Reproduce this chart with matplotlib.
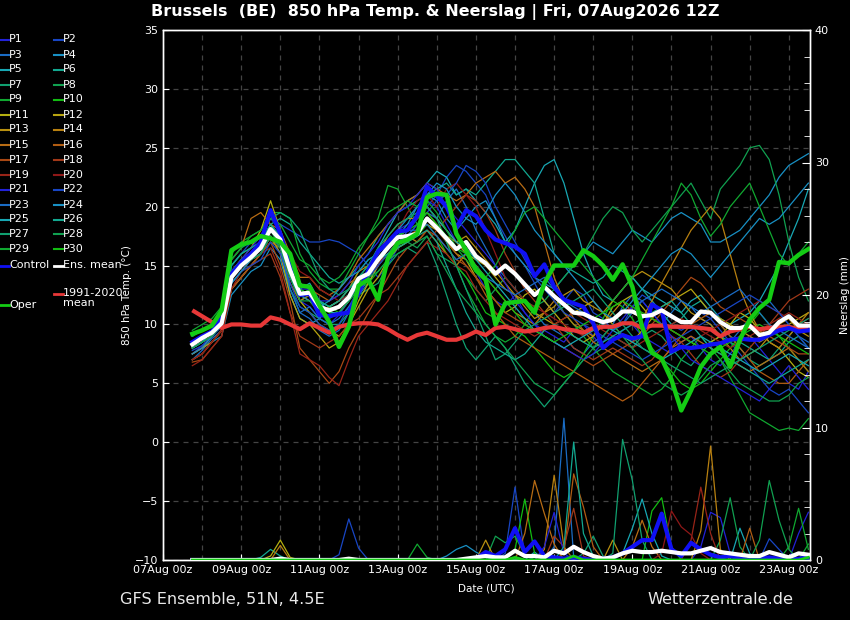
import datetime as dt
import matplotlib
matplotlib.use("Agg")
import matplotlib.pyplot as plt
import matplotlib.dates as mdates
from matplotlib.lines import Line2D
from matplotlib.ticker import MultipleLocator

# ---------------- data ----------------
RUN_START = dt.datetime(2026, 8, 7, 18)
N_STEPS = 64
STEP_HOURS = 6

TITLE = "Brussels  (BE)  850 hPa Temp. & Neerslag | Fri, 07Aug2026 12Z"
FOOT_LEFT = "GFS Ensemble, 51N, 4.5E"
FOOT_RIGHT = "Wetterzentrale.de"
XTICK_DATES = [dt.datetime(2026, 8, d) for d in range(7, 24, 2)]

member_colors = ["#2222d8", "#1846c4", "#1a6cc4", "#1890c4", "#18a8b4",
                 "#12a890", "#10a070", "#10a050", "#10a830", "#12bb12",
                 "#b4b010", "#b8a410", "#b89010", "#b88010", "#b86c14",
                 "#b05c12", "#a84814", "#a03818", "#982418", "#8e1818"]

temp_members = [
    [7.5, 8.2, 9.0, 10.5, 14.5, 15.5, 16.0, 17.0, 18.5, 17.5, 14.0, 12.0, 11.5, 10.5, 10.0, 10.8, 12.0, 13.5, 14.5, 15.5, 17.0, 18.0, 18.5, 19.0, 20.5, 20.0, 18.5, 17.0, 16.0, 14.5, 13.0, 12.0, 11.5, 12.5, 11.0, 10.0, 9.5, 9.0, 8.5, 9.5, 10.0, 9.0, 8.0, 8.5, 9.5, 10.0, 9.0, 8.5, 8.0, 7.5, 8.5, 9.0, 8.0, 7.0, 6.5, 7.5, 8.5, 9.0, 8.0, 7.0, 6.0, 5.0, 4.5, 6.0],
    [8.0, 8.5, 9.5, 11.0, 15.0, 16.0, 17.0, 17.5, 19.0, 18.5, 18.0, 17.5, 17.0, 17.0, 17.2, 17.0, 16.5, 16.0, 15.0, 14.0, 15.0, 16.5, 18.0, 19.5, 20.0, 21.0, 22.5, 23.5, 23.0, 22.0, 21.0, 19.0, 17.5, 16.0, 15.0, 13.5, 12.0, 11.0, 12.0, 13.0, 12.5, 11.0, 10.5, 9.5, 10.0, 11.5, 12.5, 12.0, 11.0, 10.0, 9.5, 10.0, 11.0, 10.5, 9.5, 8.5, 7.5, 6.5, 5.5, 4.5, 4.0, 4.5, 3.5, 2.5],
    [7.0, 7.8, 8.8, 9.5, 13.0, 14.0, 15.0, 16.0, 17.5, 16.0, 13.0, 11.0, 10.5, 9.5, 9.0, 9.5, 11.0, 12.5, 13.5, 15.0, 16.0, 17.0, 17.5, 18.5, 19.5, 19.0, 20.5, 21.5, 20.0, 18.0, 16.5, 15.0, 14.0, 13.0, 12.0, 11.0, 10.0, 9.5, 9.0, 8.0, 7.5, 8.5, 9.0, 10.0, 11.5, 12.5, 12.0, 11.0, 10.0, 11.0, 12.0, 11.5, 10.5, 10.0, 9.0, 8.5, 9.5, 10.5, 11.5, 12.0, 11.0, 10.0, 9.0, 8.5],
    [7.5, 8.0, 8.5, 9.0, 12.5, 13.5, 14.5, 15.0, 16.5, 15.5, 12.5, 10.5, 10.0, 10.5, 11.5, 12.0, 12.5, 13.0, 14.0, 15.0, 16.5, 17.5, 18.5, 20.0, 21.0, 20.5, 19.0, 18.0, 19.0, 20.0, 20.5, 19.0, 17.0, 16.0, 15.0, 14.0, 13.5, 13.0, 14.0, 15.0, 16.0, 17.0, 16.5, 16.0, 17.0, 18.0, 17.5, 17.0, 18.0, 19.0, 19.5, 19.0, 18.5, 17.0, 17.0, 17.5, 18.0, 19.0, 20.0, 21.0, 22.5, 23.5, 24.0, 24.5],
    [8.5, 9.0, 9.5, 10.0, 14.0, 15.0, 15.5, 16.0, 18.0, 17.0, 15.0, 13.0, 13.5, 12.0, 11.5, 12.0, 12.5, 14.0, 15.0, 16.5, 18.0, 19.5, 20.5, 21.0, 22.0, 23.0, 22.5, 21.0, 21.5, 20.5, 19.5, 18.5, 17.0, 18.0, 20.0, 22.0, 23.5, 24.0, 22.0, 19.0, 16.0, 14.0, 12.5, 12.0, 13.0, 14.0, 13.0, 12.5, 12.0, 11.5, 11.0, 12.0, 12.5, 11.5, 10.5, 10.0, 10.5, 11.0, 12.0, 13.5, 15.0, 17.0, 19.0, 21.5],
    [9.0, 9.5, 10.0, 10.5, 15.0, 16.0, 16.5, 17.0, 18.5, 19.0, 18.5, 17.0, 16.0, 15.0, 14.0, 13.5, 14.0, 15.0, 16.0, 17.5, 18.5, 19.5, 20.0, 20.5, 21.0, 21.5, 22.0, 21.0, 21.5, 21.0, 22.0, 23.0, 24.0, 24.0, 23.0, 22.0, 19.0, 16.0, 15.0, 14.5, 14.0, 13.5, 14.0, 15.0, 14.5, 14.0, 13.0, 12.0, 11.0, 10.0, 10.5, 11.5, 12.0, 11.0, 10.0, 9.0, 8.5, 8.0, 7.5, 7.0, 7.5, 8.5, 9.0, 8.0],
    [7.0, 7.5, 8.5, 9.5, 13.5, 14.5, 15.5, 16.5, 17.5, 16.0, 13.0, 11.5, 11.0, 10.5, 10.0, 10.0, 11.0, 12.5, 13.0, 13.5, 15.0, 16.0, 16.5, 16.0, 17.0, 15.0, 12.5, 10.0, 8.0, 7.0, 8.0, 9.0, 8.0, 6.5, 5.0, 4.0, 3.0, 4.0, 5.0, 6.0, 7.0, 7.5, 8.0, 9.0, 8.5, 8.0, 9.0, 9.5, 9.0, 8.0, 7.0, 6.5, 7.5, 8.5, 9.0, 8.5, 8.0, 7.0, 6.5, 7.0, 8.0, 9.0, 10.0, 9.5],
    [8.5, 9.0, 9.5, 10.0, 14.5, 15.0, 16.0, 16.5, 18.0, 16.5, 14.0, 12.0, 12.5, 11.0, 11.5, 12.0, 13.0, 14.5, 15.5, 16.0, 17.0, 17.5, 17.0, 16.5, 17.5, 16.0, 15.5, 15.0, 14.0, 13.0, 12.0, 13.0, 14.0, 13.0, 12.0, 11.5, 12.0, 13.0, 14.0, 15.0, 16.0, 17.5, 19.0, 20.0, 19.5, 18.0, 17.0, 18.0, 19.0, 20.0, 21.0, 22.0, 20.5, 19.0, 21.5, 22.5, 23.5, 25.0, 25.2, 24.0, 21.0, 17.0, 14.0, 12.0],
    [9.5, 10.0, 10.5, 11.5, 16.0, 17.0, 17.5, 18.0, 19.5, 19.5, 19.0, 16.0, 14.5, 13.5, 13.0, 13.0, 14.5, 16.0, 17.5, 19.0, 21.8, 21.5, 20.0, 18.5, 19.0, 18.5, 17.0, 15.0, 13.0, 11.5, 10.0, 9.0, 8.5, 9.0, 10.0, 11.5, 13.0, 12.5, 11.0, 10.0, 9.0, 8.0, 7.0, 6.0, 5.5, 5.0, 4.5, 4.0, 4.5, 5.5, 7.0, 8.0, 9.0, 8.0, 7.0, 5.5, 4.0, 2.5, 2.0, 1.5, 1.0, 1.2, 1.0, 2.0],
    [8.0, 8.5, 9.0, 10.0, 14.0, 15.0, 16.0, 17.0, 18.5, 17.0, 14.5, 12.5, 13.0, 12.0, 11.5, 11.0, 12.0, 13.0, 13.5, 14.5, 15.5, 16.5, 17.0, 17.5, 18.5, 17.5, 16.0, 15.0, 14.0, 12.5, 11.0, 10.5, 10.0, 9.5, 9.0, 8.0, 7.0, 6.0, 5.5, 6.0, 7.5, 9.0, 10.5, 12.0, 11.5, 10.5, 9.0, 8.0, 7.0, 6.0, 5.0, 4.5, 5.0, 6.0, 7.0, 8.0, 9.0, 10.0, 11.0, 10.0, 9.0, 8.0, 7.0, 6.0],
    [8.0, 8.5, 9.0, 10.0, 14.5, 15.5, 16.5, 18.0, 20.5, 18.0, 15.0, 12.0, 11.0, 10.0, 9.5, 9.0, 10.0, 12.0, 13.5, 15.0, 16.5, 17.5, 18.0, 19.0, 19.5, 18.5, 17.0, 16.0, 15.5, 14.0, 13.0, 12.0, 11.0, 11.5, 12.5, 13.0, 12.0, 11.0, 10.0, 9.0, 8.5, 9.0, 10.0, 11.5, 12.0, 12.5, 11.5, 10.5, 10.0, 9.5, 9.0, 8.5, 8.0, 8.5, 9.0, 10.0, 11.0, 10.5, 9.5, 8.5, 8.0, 7.0, 6.0, 5.5],
    [7.5, 8.0, 8.5, 9.5, 13.0, 14.0, 15.0, 16.0, 17.5, 16.0, 12.5, 10.5, 10.0, 9.0, 8.0, 8.5, 10.0, 11.5, 13.0, 14.0, 15.5, 16.5, 17.0, 18.0, 18.5, 18.0, 17.5, 17.0, 16.0, 15.5, 15.0, 14.0, 13.0, 12.5, 12.0, 11.0, 10.5, 10.0, 10.5, 11.0, 11.5, 12.0, 11.0, 10.0, 9.0, 8.5, 9.5, 10.5, 11.5, 12.0, 12.5, 13.0, 12.0, 11.0, 10.5, 10.0, 9.5, 9.0, 8.5, 9.0, 9.5, 10.0, 10.5, 11.0],
    [8.0, 8.5, 9.0, 10.0, 14.0, 15.0, 15.5, 16.5, 18.0, 17.0, 14.0, 12.5, 12.0, 11.0, 11.5, 12.0, 13.0, 14.5, 15.0, 16.0, 17.5, 18.5, 19.0, 19.0, 20.0, 19.0, 18.0, 17.0, 17.5, 16.5, 15.5, 14.5, 13.5, 12.5, 11.5, 10.5, 11.0, 11.5, 12.5, 13.0, 12.0, 11.5, 11.0, 12.0, 13.0, 14.0, 14.5, 14.0, 13.5, 13.0, 12.0, 11.0, 10.5, 10.0, 9.0, 8.0, 7.0, 7.5, 8.0, 9.0, 10.0, 10.5, 9.5, 9.0],
    [7.0, 7.5, 8.5, 9.5, 13.0, 14.0, 15.0, 16.0, 17.0, 16.5, 13.5, 12.0, 12.5, 11.5, 11.0, 11.0, 12.0, 13.5, 14.0, 15.5, 16.5, 17.0, 17.5, 17.0, 18.0, 17.0, 16.0, 15.0, 16.0, 15.0, 14.0, 13.0, 12.0, 11.0, 10.5, 10.0, 11.0, 12.0, 11.0, 10.0, 9.5, 9.0, 10.0, 11.0, 12.0, 11.0, 10.5, 12.0, 13.5, 15.0, 16.5, 18.0, 19.0, 20.0, 19.0, 16.0, 13.0, 11.0, 9.5, 8.5, 8.0, 9.0, 10.0, 11.0],
    [8.5, 9.0, 9.5, 10.5, 15.5, 16.5, 19.0, 19.5, 18.5, 18.0, 16.0, 14.0, 14.0, 13.0, 12.5, 13.0, 14.0, 15.5, 16.5, 17.5, 18.5, 19.5, 20.5, 21.0, 22.0, 21.5, 21.0, 20.5, 21.0, 22.0, 22.5, 23.0, 22.0, 22.5, 21.5, 20.0, 17.0, 14.0, 12.0, 10.5, 9.5, 8.5, 8.0, 7.5, 7.0, 6.5, 6.0, 6.5, 7.0, 8.0, 8.5, 9.0, 8.5, 8.0, 7.5, 7.0, 6.5, 6.0, 6.5, 7.0, 7.5, 8.0, 7.0, 6.0],
    [7.5, 8.0, 9.0, 10.0, 14.0, 15.0, 15.5, 16.0, 17.5, 16.5, 14.5, 13.5, 13.0, 12.5, 12.0, 12.5, 13.5, 14.0, 14.5, 15.0, 16.0, 17.0, 17.5, 18.0, 19.0, 18.0, 17.0, 16.0, 15.0, 14.0, 12.5, 11.0, 10.0, 9.0, 8.5, 8.0, 7.5, 7.0, 6.5, 6.0, 5.5, 5.0, 4.5, 4.0, 3.5, 4.0, 5.0, 6.0, 7.0, 8.0, 9.0, 10.0, 10.5, 11.0, 10.0, 9.0, 8.0, 7.0, 6.0, 5.5, 5.0, 5.0, 6.0, 7.0],
    [6.8, 7.0, 8.0, 9.0, 13.0, 14.0, 15.0, 16.0, 17.0, 15.0, 12.0, 8.0, 7.0, 6.0, 5.0, 6.0, 8.0, 9.5, 11.0, 12.5, 14.0, 15.5, 16.5, 17.0, 18.0, 17.5, 16.5, 15.5, 15.0, 14.0, 13.0, 12.0, 11.0, 10.5, 10.0, 9.5, 9.0, 8.5, 8.0, 7.5, 7.0, 6.5, 7.0, 7.5, 8.0, 8.5, 9.0, 10.0, 11.0, 12.0, 13.0, 14.0, 13.5, 12.5, 11.5, 11.0, 10.5, 10.0, 9.5, 9.0, 8.5, 8.0, 7.5, 7.5],
    [7.0, 7.5, 8.5, 9.5, 13.5, 14.5, 15.0, 15.5, 16.0, 14.0, 11.0, 9.0, 8.5, 8.0, 8.5, 9.0, 10.0, 10.5, 11.5, 12.5, 13.0, 14.0, 15.0, 16.0, 17.0, 18.0, 19.0, 20.0, 21.0, 20.5, 19.5, 18.0, 16.0, 14.5, 13.0, 12.0, 11.0, 10.0, 9.0, 8.0, 7.5, 7.0, 7.5, 8.0, 7.5, 7.0, 6.5, 7.0, 8.0, 9.0, 8.5, 7.5, 6.5, 6.0, 5.5, 6.0, 7.0, 8.0, 9.0, 10.0, 11.0, 12.0, 12.5, 13.0],
    [6.5, 7.0, 8.0, 9.0, 13.0, 14.5, 15.5, 16.0, 16.5, 14.5, 11.0, 7.5, 7.0, 6.5, 5.5, 4.8, 7.0, 9.0, 10.0, 11.0, 12.0, 13.5, 15.0, 16.0, 17.0, 16.5, 16.0, 15.0, 14.5, 13.0, 12.0, 11.0, 10.5, 10.0, 9.5, 9.0, 9.5, 10.0, 10.5, 11.0, 10.5, 10.0, 9.5, 9.0, 8.5, 8.0, 8.5, 9.0, 9.5, 10.0, 10.5, 10.0, 9.5, 9.0, 8.5, 8.0, 8.5, 9.0, 9.5, 10.0, 10.5, 11.0, 10.5, 10.0],
    [7.0, 7.5, 8.5, 9.5, 14.0, 15.0, 16.0, 17.0, 18.0, 17.5, 16.0, 14.5, 14.0, 13.0, 12.5, 12.0, 12.5, 13.5, 14.0, 15.0, 16.5, 18.0, 19.5, 20.5, 21.0, 20.0, 21.5, 22.0, 21.0, 20.0, 18.0, 16.0, 14.0, 13.0, 12.0, 11.5, 11.0, 10.5, 10.0, 9.5, 9.0, 9.5, 10.0, 10.5, 11.0, 11.5, 11.0, 10.5, 10.0, 9.5, 9.0, 8.5, 9.0, 9.5, 10.0, 10.5, 11.0, 11.5, 12.0, 11.5, 11.0, 10.5, 10.0, 10.5],
    [8.5, 9.0, 9.5, 10.5, 14.5, 15.5, 16.5, 17.5, 19.0, 18.0, 15.5, 13.0, 13.0, 12.0, 12.0, 12.5, 13.5, 15.0, 16.0, 17.0, 18.5, 19.5, 20.0, 21.0, 22.0, 21.5, 20.0, 19.0, 18.0, 17.0, 16.0, 15.0, 13.5, 12.0, 11.0, 10.0, 9.0, 8.5, 8.0, 7.5, 7.0, 7.5, 8.5, 9.5, 10.5, 11.5, 12.0, 11.0, 10.0, 9.0, 8.0, 7.0, 6.5, 6.0, 5.5, 5.0, 4.5, 4.0, 3.5, 4.5, 5.5, 6.5, 5.5, 4.5],
    [7.8, 8.2, 9.0, 9.8, 13.5, 14.5, 15.0, 15.5, 17.0, 16.0, 13.5, 11.5, 11.0, 10.0, 9.5, 10.0, 11.5, 13.0, 14.0, 15.0, 16.0, 17.0, 17.5, 18.5, 19.5, 20.5, 21.0, 22.0, 23.5, 23.0, 22.0, 20.0, 18.5, 17.0, 15.5, 14.0, 13.0, 12.0, 11.0, 10.5, 10.0, 9.5, 9.0, 8.5, 8.0, 7.5, 7.0, 7.5, 8.0, 8.5, 9.0, 9.5, 10.0, 10.5, 11.0, 11.5, 12.0, 12.5, 12.0, 11.5, 11.0, 10.0, 9.0, 8.0],
    [8.0, 8.5, 9.0, 10.0, 14.0, 15.0, 15.5, 16.0, 17.5, 16.5, 13.0, 11.0, 11.5, 10.5, 10.0, 10.5, 11.5, 12.5, 14.0, 15.5, 16.5, 17.5, 18.0, 18.0, 18.5, 17.5, 16.5, 15.5, 16.0, 15.0, 14.0, 13.5, 13.0, 12.5, 13.0, 13.5, 14.0, 13.0, 12.0, 11.5, 11.0, 10.5, 10.0, 9.5, 10.0, 11.0, 12.0, 12.5, 13.0, 12.5, 12.0, 11.5, 11.0, 11.5, 12.0, 12.5, 13.0, 12.0, 11.0, 10.0, 9.5, 9.0, 8.5, 8.0],
    [7.5, 8.0, 9.0, 10.0, 13.5, 14.5, 15.5, 16.5, 18.0, 17.0, 14.0, 12.5, 12.0, 11.5, 12.0, 13.0, 14.0, 14.5, 15.5, 16.0, 17.0, 18.0, 19.0, 20.0, 21.0, 22.0, 21.5, 20.0, 19.0, 18.5, 19.5, 21.0, 22.0, 21.0, 19.5, 18.0, 17.0, 16.0, 15.0, 14.0, 13.0, 12.0, 11.0, 10.5, 11.0, 12.0, 13.0, 14.0, 15.0, 16.0, 16.5, 16.0, 15.0, 14.0, 15.0, 16.0, 17.0, 18.0, 19.0, 18.5, 19.0, 20.0, 21.0, 22.0],
    [8.0, 8.5, 9.5, 10.5, 14.0, 15.0, 16.0, 17.0, 18.0, 17.5, 15.0, 13.0, 12.5, 12.0, 11.0, 11.0, 12.0, 13.5, 14.5, 15.5, 16.5, 17.5, 18.0, 19.0, 20.0, 19.0, 18.0, 17.0, 16.5, 15.5, 14.5, 13.5, 12.5, 11.5, 10.5, 9.5, 9.0, 8.5, 8.0, 8.5, 9.0, 9.5, 10.0, 9.5, 9.0, 8.5, 8.0, 7.5, 7.0, 7.5, 8.0, 8.5, 9.0, 8.5, 8.0, 7.5, 7.0, 6.5, 6.0, 6.5, 7.0, 7.5, 7.0, 6.5],
    [8.5, 9.0, 9.5, 10.5, 15.0, 16.0, 16.5, 17.0, 18.5, 17.5, 15.0, 13.5, 13.0, 12.0, 11.5, 12.0, 13.0, 14.0, 14.5, 15.5, 16.0, 16.5, 17.0, 17.5, 18.0, 17.0, 15.0, 13.0, 11.0, 9.5, 8.5, 8.0, 7.5, 7.0, 7.5, 8.5, 9.5, 10.0, 9.5, 9.0, 8.5, 8.0, 8.5, 9.0, 9.5, 10.0, 10.5, 11.0, 11.5, 12.0, 11.0, 10.0, 9.0, 8.0, 7.5, 7.0, 6.5, 6.0, 5.5, 5.0, 5.5, 6.0, 6.5, 7.0],
    [9.0, 9.5, 10.0, 11.0, 15.5, 16.5, 17.0, 17.5, 19.0, 19.5, 19.0, 18.0, 16.0, 14.0, 13.0, 12.5, 13.0, 14.0, 15.0, 16.5, 17.5, 18.5, 19.0, 19.5, 20.0, 19.0, 17.0, 15.0, 13.0, 11.0, 9.0, 7.0, 7.5, 8.5, 9.5, 10.0, 10.5, 11.0, 11.5, 12.0, 12.5, 13.0, 12.0, 11.0, 10.0, 9.0, 8.0, 7.5, 7.0, 6.5, 6.0, 5.5, 5.0, 5.5, 6.0, 6.5, 7.0, 7.5, 8.0, 8.5, 9.0, 9.5, 10.0, 10.5],
    [8.0, 8.5, 9.0, 10.0, 14.0, 15.0, 15.5, 16.0, 17.5, 16.5, 14.0, 12.0, 12.0, 11.0, 10.5, 11.0, 12.0, 13.0, 14.0, 14.5, 15.5, 16.0, 16.5, 17.0, 17.5, 16.0, 14.5, 13.0, 12.0, 11.0, 10.0, 9.0, 8.0, 7.0, 6.0, 5.0, 4.5, 4.0, 5.0, 6.0, 7.0, 8.0, 9.0, 10.0, 9.0, 8.0, 7.0, 6.0, 5.0, 4.5, 4.0, 4.5, 5.5, 6.5, 7.0, 6.0, 5.0, 4.5, 4.0, 3.5, 3.5, 4.0, 5.0, 5.5],
    [9.0, 9.5, 10.0, 11.0, 15.5, 16.5, 17.5, 18.0, 19.0, 18.5, 17.0, 15.5, 15.0, 14.0, 13.5, 14.0, 15.0, 16.5, 17.5, 18.5, 19.5, 20.0, 20.5, 20.0, 20.5, 19.5, 18.0, 16.5, 15.5, 14.5, 14.0, 15.0, 16.5, 18.0, 19.5, 20.0, 19.0, 18.0, 17.0, 16.0, 15.0, 14.0, 13.0, 12.0, 13.0, 14.0, 15.5, 17.0, 18.5, 20.0, 22.0, 21.0, 19.0, 17.5, 18.5, 20.0, 21.0, 22.0, 20.0, 18.0, 16.0, 15.0, 16.0, 17.0],
    [8.5, 9.0, 9.5, 10.5, 14.5, 15.5, 16.0, 16.5, 18.0, 17.0, 15.0, 13.0, 12.5, 11.5, 11.0, 11.5, 12.5, 13.5, 14.5, 15.5, 16.5, 17.5, 18.0, 18.5, 19.5, 18.5, 17.5, 16.5, 16.0, 15.0, 14.0, 13.0, 12.0, 11.0, 10.0, 9.5, 9.0, 8.5, 9.0, 9.5, 10.0, 10.5, 11.0, 11.5, 12.0, 11.5, 11.0, 10.5, 10.0, 9.5, 9.0, 8.5, 8.0, 7.5, 8.0, 8.5, 9.0, 9.5, 10.0, 9.5, 9.0, 8.5, 8.0, 7.5],
]

temp_control = [8.5, 9.0, 9.4, 10.5, 14.3, 15.3, 16.0, 17.0, 19.7, 17.7, 15.0, 12.5, 12.6, 10.8, 10.7, 10.9,
                11.0, 12.7, 14.6, 16.2, 17.0, 17.9, 18.0, 19.2, 21.7, 20.9, 20.0, 18.2, 19.7, 19.2, 18.0, 17.2,
                16.9, 16.6, 16.0, 14.1, 15.1, 13.2, 12.1, 11.8, 11.5, 10.1, 8.0, 8.7, 9.1, 8.8, 9.0, 11.7,
                11.2, 7.7, 8.1, 8.0, 8.1, 8.3, 8.4, 8.7, 8.8, 8.7, 8.7, 9.1, 9.5, 9.7, 9.4, 9.5]

temp_ens_mean = [8.3, 8.85, 9.3, 10.1, 14.0, 15.0, 15.7, 16.5, 18.1, 17.2, 14.6, 12.6, 12.7, 11.5, 11.2, 11.5,
                 12.3, 13.9, 14.3, 15.5, 16.5, 17.4, 17.5, 17.7, 19.0, 18.2, 17.3, 16.4, 17.0, 15.8, 15.2, 14.3,
                 15.0, 14.3, 13.4, 12.5, 13.2, 12.4, 11.7, 11.0, 10.9, 10.5, 10.2, 10.4, 11.1, 11.1, 10.7, 10.8,
                 11.2, 10.7, 10.2, 10.2, 11.1, 11.0, 10.2, 9.7, 9.7, 9.9, 9.1, 9.3, 10.2, 10.7, 9.9, 9.9]

temp_oper = [9.2, 9.5, 9.9, 11.2, 16.3, 16.8, 17.0, 17.5, 17.3, 17.0, 16.0, 13.3, 13.2, 11.6, 10.2, 8.1,
             9.8, 13.3, 13.8, 12.1, 15.6, 16.9, 17.2, 17.7, 20.8, 21.1, 21.0, 17.7, 16.3, 14.6, 13.8, 10.0,
             11.8, 11.9, 12.0, 11.0, 13.5, 15.0, 15.0, 15.0, 16.3, 15.8, 15.0, 13.8, 15.1, 13.2, 9.8, 7.6,
             7.1, 5.3, 2.7, 4.4, 6.4, 7.5, 8.1, 6.4, 8.7, 10.4, 11.4, 12.1, 15.3, 15.2, 15.9, 16.4]

temp_clim = [11.2, 10.7, 10.2, 9.7, 10.0, 10.0, 9.9, 9.9, 10.6, 10.4, 10.0, 9.6, 10.1, 9.7, 9.3, 9.8,
             10.0, 10.1, 10.1, 10.0, 9.6, 9.1, 8.7, 9.1, 9.3, 9.0, 8.7, 8.7, 9.0, 9.4, 9.1, 9.7,
             9.8, 9.6, 9.4, 9.5, 9.7, 9.8, 9.6, 9.5, 9.3, 9.7, 9.8, 9.8, 10.1, 10.1, 9.7, 9.9,
             9.9, 9.8, 9.8, 9.8, 9.7, 9.6, 9.0, 9.4, 9.6, 9.8, 9.6, 9.7, 9.8, 9.8, 9.6, 9.7]

# member precipitation (mm), listed as {member number: {time step: value}}; all other steps are 0
precip_members = {
    1: {52: 1.0, 53: 3.6, 54: 3.2, 55: 0.5},
    2: {32: 0.5, 33: 5.5, 34: 0.3},
    3: {37: 1.0, 38: 10.7, 39: 0.2},
    4: {26: 0.3, 27: 0.8, 28: 1.1, 29: 0.6, 30: 0.2},
    5: {35: 0.6, 56: 2.4, 57: 0.5},
    6: {7: 0.2, 8: 0.8, 9: 0.3},
    7: {40: 0.5, 41: 1.8, 42: 0.3},
    8: {31: 1.8, 32: 1.3, 33: 1.8, 34: 0.4, 54: 1.5, 55: 4.7, 56: 1.0},
    9: {23: 1.2, 24: 0.2, 63: 1.2},
    10: {33: 0.8, 34: 4.6, 35: 0.5, 47: 3.7, 48: 4.7, 49: 1.0},
    11: {8: 0.3, 9: 1.5, 10: 0.2},
    13: {30: 1.5, 43: 1.5},
    14: {9: 1.1, 36: 0.8, 37: 6.4, 38: 1.0, 52: 2.2, 53: 8.6, 54: 0.8},
    15: {34: 2.0, 35: 6.0, 36: 3.5, 37: 1.2, 45: 1.0, 46: 3.0, 47: 1.0},
    16: {38: 0.5, 39: 6.5, 40: 4.0, 41: 1.0, 57: 2.4},
    18: {37: 1.8, 38: 1.0, 39: 3.9, 40: 0.3},
    19: {51: 1.5, 52: 5.5, 53: 2.0},
    20: {48: 0.5, 49: 3.7, 50: 2.5, 51: 1.9, 52: 0.5},
    21: {36: 1.0, 37: 3.6, 38: 0.5, 62: 2.0, 63: 3.6},
    22: {15: 0.4, 16: 3.1, 17: 0.9, 59: 1.6, 60: 0.8},
    25: {44: 0.5, 45: 2.4, 46: 4.6, 47: 2.0, 48: 0.3},
    26: {38: 1.0, 39: 8.9, 40: 2.0, 41: 0.3},
    27: {43: 0.5, 44: 9.1, 45: 6.0, 46: 1.5},
    28: {58: 1.5, 59: 6.0, 60: 3.0, 61: 0.8},
    29: {61: 1.0, 62: 3.9, 63: 0.8},
}

precip_control = [0, 0, 0, 0, 0, 0, 0, 0, 0, 0, 0, 0, 0, 0, 0, 0,
                  0, 0, 0, 0, 0, 0, 0, 0, 0, 0, 0, 0, 0, 0.1, 0.6, 0.3,
                  0.8, 2.4, 0.6, 1.4, 0.3, 0.2, 0.1, 0.2, 0.1, 0, 0.1, 0.2, 0.5, 1.0, 1.5, 1.5,
                  3.5, 0.8, 0.3, 1.3, 0.8, 0.4, 0.2, 0.3, 0.1, 0, 0.1, 0.2, 0.1, 0, 0.1, 0.2]

precip_ens_mean = [0, 0, 0, 0, 0, 0, 0, 0, 0, 0.1, 0, 0, 0, 0, 0, 0,
                   0.1, 0, 0, 0, 0, 0, 0, 0, 0, 0, 0, 0, 0.1, 0.2, 0.3, 0.2,
                   0.2, 0.7, 0.3, 0.3, 0.2, 0.7, 0.5, 1.0, 0.6, 0.3, 0.1, 0.2, 0.5, 0.7, 0.6, 0.6,
                   0.7, 0.6, 0.5, 0.5, 0.7, 0.9, 0.6, 0.5, 0.4, 0.3, 0.3, 0.6, 0.4, 0.2, 0.5, 0.4]

precip_oper = [0, 0, 0, 0, 0, 0, 0, 0, 0, 0, 0, 0, 0, 0, 0, 0,
               0, 0, 0, 0, 0, 0, 0, 0, 0, 0, 0, 0, 0, 0, 0, 0,
               0, 0.2, 0, 0, 0, 0, 0, 0.3, 0, 0, 0, 0, 0, 0, 0, 0,
               0, 0, 0, 0, 0, 0, 0, 0, 0, 0, 0, 0, 0, 0, 0, 0.2]

# ---------------- figure ----------------
times = [RUN_START + dt.timedelta(hours=STEP_HOURS * i) for i in range(N_STEPS)]

fig = plt.figure(figsize=(8.5, 6.2), dpi=100, facecolor="black")
ax = fig.add_axes([163 / 850, 1 - 560 / 620, (810 - 163) / 850, 530 / 620])
ax.set_facecolor("black")
ax2 = ax.twinx()

for k, vals in enumerate(temp_members):
    ax.plot(times, vals, color=member_colors[k % 20], lw=0.9, zorder=2)
ax.plot(times, temp_clim, color="#e83838", lw=3.0, zorder=4, solid_capstyle="butt")
ax.plot(times, temp_control, color="#1010f4", lw=3.0, zorder=5)
ax.plot(times, temp_ens_mean, color="white", lw=3.0, zorder=6)
ax.plot(times, temp_oper, color="#14cc14", lw=3.2, zorder=7)

for k in range(len(temp_members)):
    d = precip_members.get(k + 1, {})
    vals = [d.get(i, 0.0) for i in range(N_STEPS)]
    ax2.plot(times, vals, color=member_colors[k % 20], lw=0.9, zorder=2)
ax2.plot(times, precip_control, color="#1010f4", lw=3.0, zorder=5)
ax2.plot(times, precip_ens_mean, color="white", lw=3.0, zorder=6)
ax2.plot(times, precip_oper, color="#14cc14", lw=2.0, zorder=7)

ax.set_xlim(dt.datetime(2026, 8, 7, 0), dt.datetime(2026, 8, 23, 13))
ax.set_ylim(-10, 35)
ax2.set_ylim(0, 40)

ax.set_xticks(XTICK_DATES)
ax.xaxis.set_major_formatter(mdates.DateFormatter("%d%b %Hz"))
ax.xaxis.set_minor_locator(mdates.DayLocator())
ax.yaxis.set_major_locator(MultipleLocator(5))
ax2.yaxis.set_major_locator(MultipleLocator(10))
ax2.yaxis.set_minor_locator(MultipleLocator(2))

ax.grid(True, which="both", axis="x", color="#444444", ls=(0, (4, 4)), lw=0.9)
ax.grid(True, which="major", axis="y", color="#444444", ls=(0, (4, 4)), lw=0.9)
ax.set_axisbelow(True)

for a in (ax, ax2):
    for s in a.spines.values():
        s.set_color("white")
        s.set_linewidth(1.0)
ax.tick_params(axis="both", which="both", colors="white", labelsize=8, direction="in", length=4)
ax.tick_params(axis="x", which="minor", length=0)
ax2.tick_params(axis="y", which="major", colors="white", labelsize=8, direction="in", length=6)
ax2.tick_params(axis="y", which="minor", colors="white", direction="in", length=4)

ax.set_ylabel("850 hPa Temp. (°C)", color="white", fontsize=7.5)
ax.yaxis.set_label_coords((132 - 163) / 647, 0.5)
ax2.set_ylabel("Neerslag (mm)", color="white", fontsize=7.5)
ax2.yaxis.set_label_coords((840 - 163) / 647, 0.5)
ax.set_xlabel("Date (UTC)", color="white", fontsize=7.5, labelpad=6)

fig.text(435 / 850, 1 - 12 / 620, TITLE, color="white", fontsize=11.5, fontweight="bold",
         ha="center", va="center")
fig.text(120 / 850, 1 - 599 / 620, FOOT_LEFT, color="#e8e8e8", fontsize=11.6, ha="left", va="center")
fig.text(793 / 850, 1 - 599 / 620, FOOT_RIGHT, color="#e8e8e8", fontsize=11.6, ha="right", va="center")

# ---------------- legend (drawn in figure pixels) ----------------
def legend_entry(x_handle, y_px, color, label, lw=1.5):
    y = 1 - y_px / 620
    fig.add_artist(Line2D([x_handle / 850, (x_handle + 9) / 850], [y, y], color=color, lw=lw,
                          transform=fig.transFigure))
    fig.text((x_handle + 9) / 850, y, label, color="white", fontsize=8, ha="left", va="center")

for k in range(len(temp_members)):
    row = k // 2
    col = k % 2
    legend_entry(0 if col == 0 else 54, 39.5 + 15 * row, member_colors[k % 20], "P%d" % (k + 1))
legend_entry(0, 265.5, "#1010f4", "Control", lw=2)
legend_entry(54, 265.5, "white", "Ens. mean", lw=2)
legend_entry(54, 293.5, "#e83838", "1991-2020", lw=2)
fig.text(63 / 850, 1 - 303.5 / 620, "mean", color="white", fontsize=8, ha="left", va="center")
legend_entry(0, 305.5, "#14cc14", "Oper", lw=2)

fig.savefig("out.png", dpi=100, facecolor="black")
